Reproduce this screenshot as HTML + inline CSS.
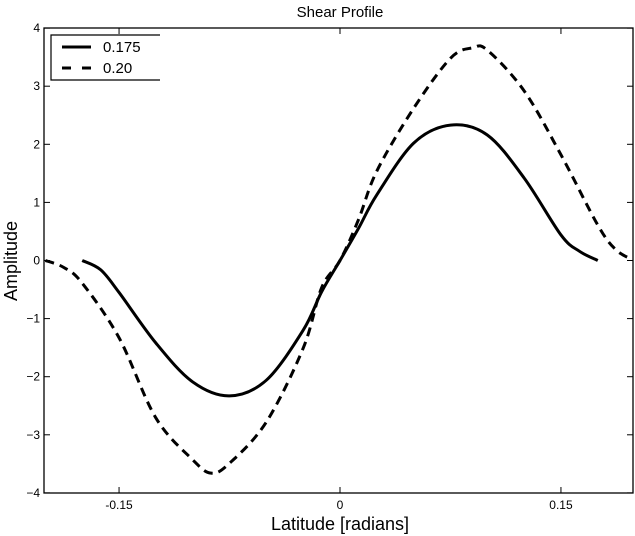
<!DOCTYPE html>
<html><head><meta charset="utf-8"><style>
body{margin:0;background:#fff}
svg{display:block;font-family:"Liberation Sans",Arial,sans-serif}
</style></head><body>
<svg id="c" width="635" height="536"></svg>
<script>
const xTicks=[-0.15,0,0.15];
const xTickLabels=["-0.15","0","0.15"];
const yTicks=[-4,-3,-2,-1,0,1,2,3,4];
const xSolid=[-0.175,-0.1625,-0.15,-0.125,-0.1,-0.075,-0.05,-0.025,-0.0125,0,0.0125,0.025,0.05,0.075,0.1,0.125,0.15,0.1625,0.175];
const ySolid=[0,-0.16,-0.55,-1.42,-2.09,-2.33,-2.06,-1.2,-0.54,0,0.55,1.13,2.02,2.33,2.16,1.42,0.44,0.16,0];
const xDashed=[-0.2,-0.1875,-0.175,-0.15,-0.125,-0.1,-0.0875,-0.075,-0.05,-0.025,-0.0125,0,0.0125,0.025,0.05,0.075,0.09,0.1,0.125,0.15,0.175,0.1875,0.2];
const yDashed=[0,-0.12,-0.39,-1.33,-2.71,-3.43,-3.66,-3.49,-2.78,-1.51,-0.47,0,0.7,1.54,2.62,3.48,3.66,3.62,2.92,1.82,0.61,0.18,0];
const L=44,R=633,T=28,B=493;
const xs=v=>340+v*1473;
const ys=v=>260.5-v*58.1;
const NS="http://www.w3.org/2000/svg";
const svg=document.getElementById('c');
function mk(t,a,p){const e=document.createElementNS(NS,t);for(const k in a)e.setAttribute(k,a[k]);(p||svg).appendChild(e);return e;}
const clip=mk('clipPath',{id:'cp'});mk('rect',{x:L,y:T,width:R-L,height:B-T},clip);
// axes box
const frame=mk('rect',{x:L,y:T,width:R-L,height:B-T,fill:'none',stroke:'#000','stroke-width':1.3});

xTicks.forEach((v,i)=>{const x=xs(v);
 const t1=mk('line',{x1:x,y1:B,x2:x,y2:B-6,stroke:'#000'});
 mk('line',{x1:x,y1:T,x2:x,y2:T+6,stroke:'#000'});
 const tl=mk('text',{x:x,y:B+16,'text-anchor':'middle','font-size':12});tl.textContent=xTickLabels[i];
 });
yTicks.forEach(v=>{const y=ys(v);
 const t1=mk('line',{x1:L,y1:y,x2:L+6,y2:y,stroke:'#000'});
 mk('line',{x1:R,y1:y,x2:R-6,y2:y,stroke:'#000'});
 const tl=mk('text',{x:L-4,y:y+4,'text-anchor':'end','font-size':12});tl.textContent=v<0?'\u2212'+(-v):String(v);
 });
function pathD(xa,ya){const p=xa.map((x,i)=>[xs(x),ys(ya[i])]);let d='M'+p[0][0]+','+p[0][1];
 for(let i=0;i<p.length-1;i++){const p0=p[i-1]||p[i],p1=p[i],p2=p[i+1],p3=p[i+2]||p2;
  d+=' C'+(p1[0]+(p2[0]-p0[0])/6)+','+(p1[1]+(p2[1]-p0[1])/6)+' '+(p2[0]-(p3[0]-p1[0])/6)+','+(p2[1]-(p3[1]-p1[1])/6)+' '+p2[0]+','+p2[1];}
 return d;}
const s1=mk('path',{d:pathD(xSolid,ySolid),fill:'none',stroke:'#000','stroke-width':3,'clip-path':'url(#cp)'});

const s2=mk('path',{d:pathD(xDashed,yDashed),fill:'none',stroke:'#000','stroke-width':3,'stroke-dasharray':'9,6','clip-path':'url(#cp)'});

</script>
<svg width="635" height="536" style="position:absolute;left:0;top:0">
<text x="340" y="17" text-anchor="middle" font-size="15" font-family="Liberation Sans,sans-serif">Shear Profile</text>
<text x="340" y="530" text-anchor="middle" font-size="18" font-family="Liberation Sans,sans-serif">Latitude [radians]</text>
<text transform="translate(17,261) rotate(-90)" text-anchor="middle" font-size="18" font-family="Liberation Sans,sans-serif">Amplitude</text>
<g>
<rect x="51" y="35" width="140" height="45" fill="#fff" stroke="none"/>
<path d="M160,35 H51 V80 H160" fill="none" stroke="#000" stroke-width="1.2"/>
<line x1="62" y1="47" x2="91" y2="47" stroke="#000" stroke-width="3"/>
<text x="103" y="52" font-size="15" font-family="Liberation Sans,sans-serif">0.175</text>
<line x1="62" y1="68" x2="91" y2="68" stroke="#000" stroke-width="3" stroke-dasharray="9,11"/>
<text x="103" y="73" font-size="15" font-family="Liberation Sans,sans-serif">0.20</text>
</g>
</svg>
</body></html>
